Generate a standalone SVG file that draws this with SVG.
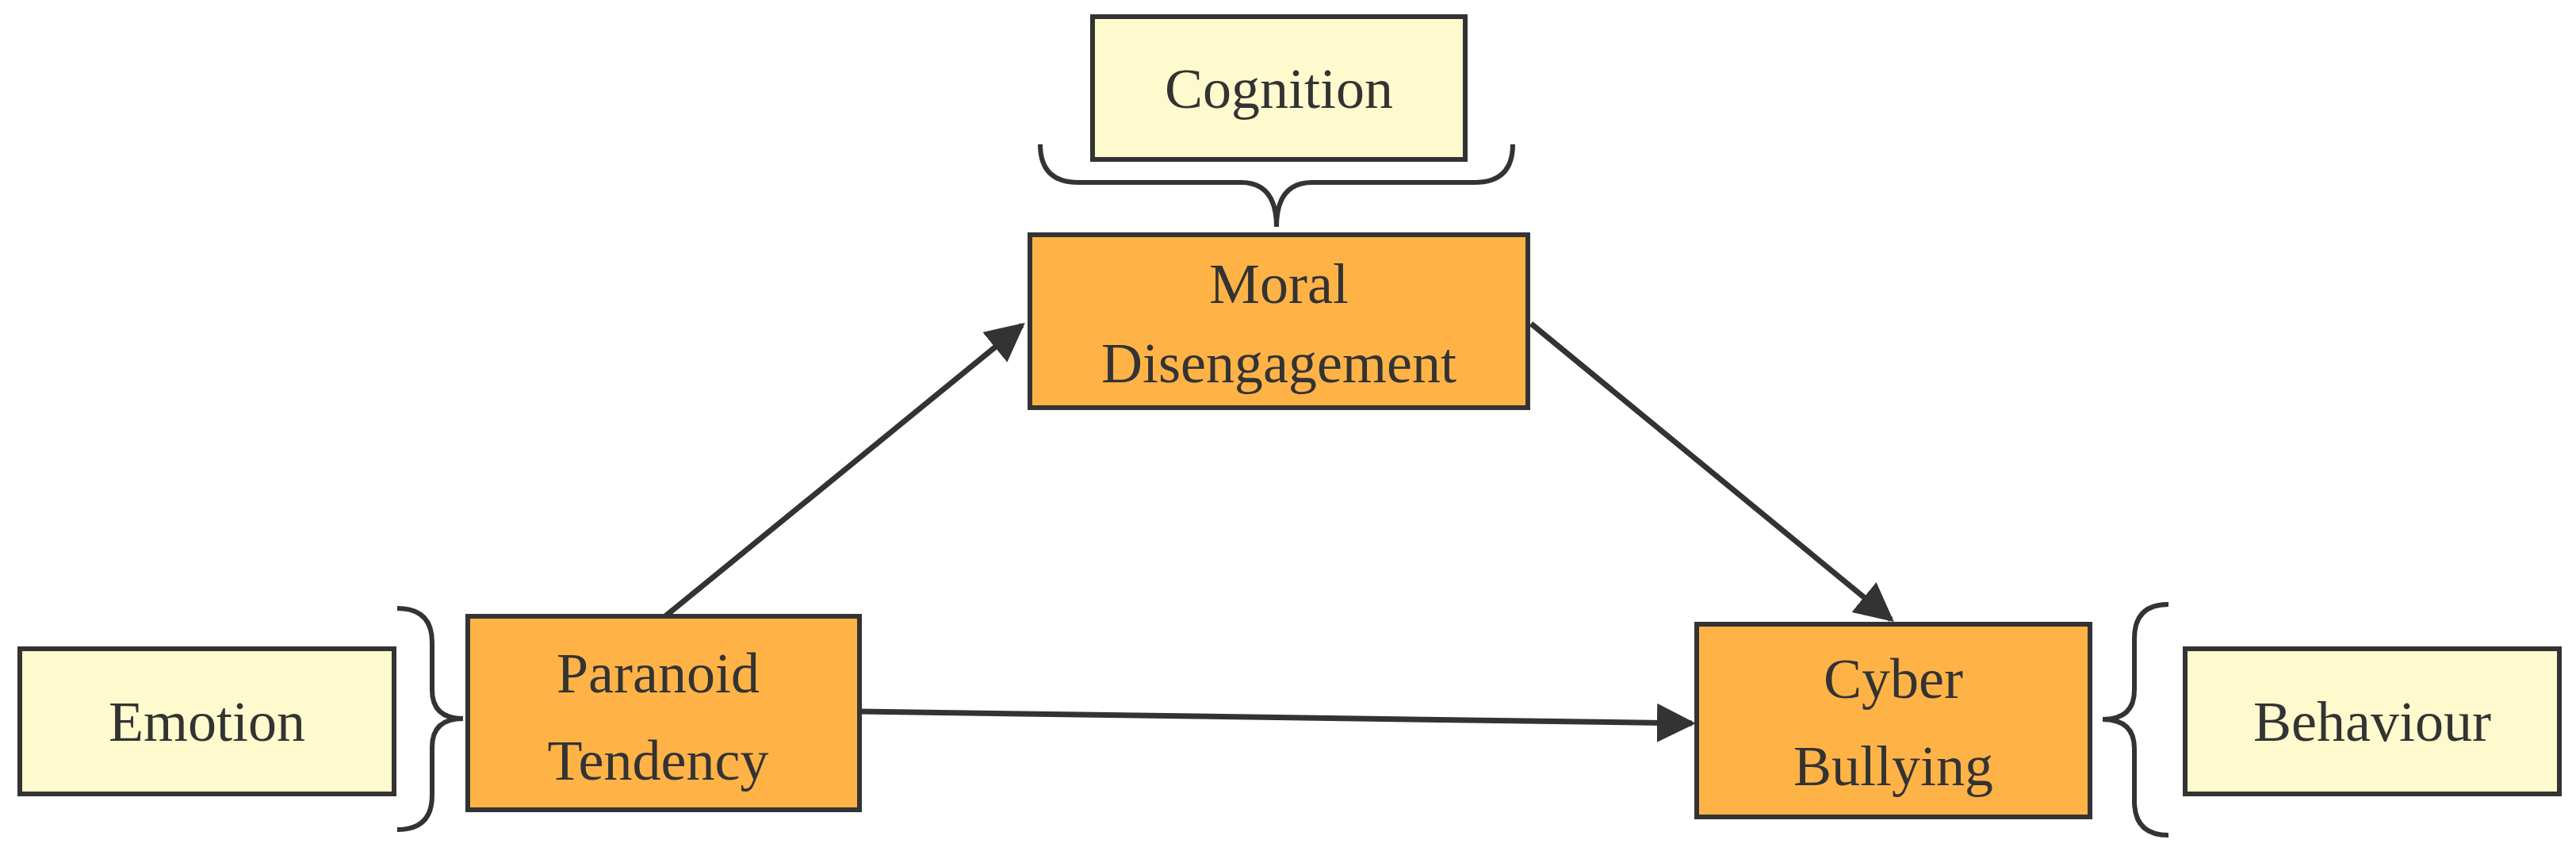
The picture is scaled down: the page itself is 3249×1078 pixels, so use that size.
<svg xmlns="http://www.w3.org/2000/svg" width="3249" height="1078" viewBox="0 0 3249 1078">
<style>
.main{fill:#FFB347;stroke:#333;stroke-width:6}
.lab{fill:#FFFACD;stroke:#333;stroke-width:6}
.t{font-family:"Liberation Serif",serif;font-size:72px;fill:#333;text-anchor:middle}
.br{fill:none;stroke:#333;stroke-width:6}
.c{stroke:#333;stroke-width:7;fill:none;marker-end:url(#a)}
</style>
<defs><marker id="a" viewBox="0 0 10 10" refX="9" refY="5" markerWidth="7" markerHeight="7" orient="auto" markerUnits="strokeWidth"><path d="M0,0L10,5L0,10z" fill="#333"/></marker></defs>
<rect width="3249" height="1078" fill="#fff"/>
<g id="connectors">
<line class="c" x1="839" y1="777" x2="1289" y2="410"/>
<line class="c" x1="1931" y1="408" x2="2385" y2="781"/>
<line class="c" x1="1084" y1="897" x2="2134" y2="912"/>
</g>
<g id="cognition"><rect class="lab" x="1378" y="21" width="470" height="180"/><text class="t" x="1613" y="136">Cognition</text></g>
<g id="brace-top"><path class="br" d="M1312,182 Q1312,230 1360,230 L1565,230 Q1610,230 1610,286 Q1610,230 1655,230 L1860,230 Q1908,230 1908,182"/></g>
<g id="moral"><rect class="main" x="1299" y="296" width="628" height="218"/><text class="t" x="1613" y="382">Moral</text><text class="t" x="1613" y="482">Disengagement</text></g>
<g id="emotion"><rect class="lab" x="25" y="818" width="472" height="183"/><text class="t" x="261" y="934">Emotion</text></g>
<g id="brace-left"><path class="br" d="M501,767 Q545,767 545,810 L545,870 Q545,906 584,906 Q545,906 545,942 L545,1003 Q545,1046 501,1046"/></g>
<g id="paranoid"><rect class="main" x="590" y="777" width="494" height="244"/><text class="t" x="830" y="873">Paranoid</text><text class="t" x="830" y="983">Tendency</text></g>
<g id="cyber"><rect class="main" x="2140" y="787" width="496" height="243"/><text class="t" x="2388" y="880">Cyber</text><text class="t" x="2388" y="990">Bullying</text></g>
<g id="brace-right"><path class="br" d="M2735,762 Q2692,762 2692,805 L2692,870 Q2692,907 2652,907 Q2692,907 2692,944 L2692,1010 Q2692,1053 2735,1053"/></g>
<g id="behaviour"><rect class="lab" x="2756" y="818" width="472" height="183"/><text class="t" x="2992" y="934">Behaviour</text></g>
</svg>
